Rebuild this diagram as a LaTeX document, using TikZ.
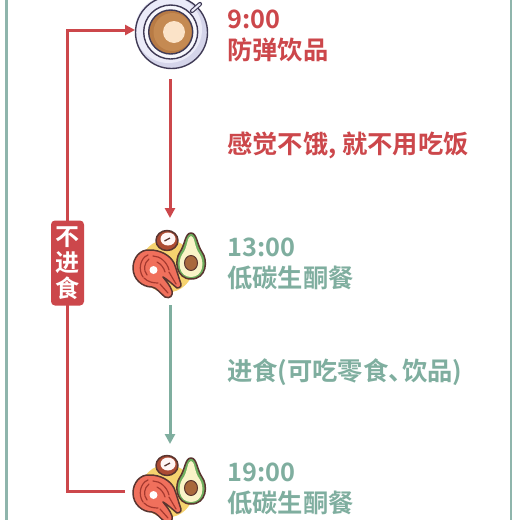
\documentclass[tikz,border=0pt]{standalone}
\usepackage{fontspec}
\setmainfont{Noto Sans CJK SC}[BoldFont={* Bold}]
\usetikzlibrary{arrows.meta}
\definecolor{brick}{HTML}{CC474B}
\definecolor{sage}{HTML}{7FAE9F}
\definecolor{frameline}{HTML}{8FB5AC}
\definecolor{ink}{HTML}{5A3530}
\definecolor{plum}{HTML}{3F3A55}
\definecolor{saucer}{HTML}{EBEBF8}
\definecolor{saucerd}{HTML}{D5D5EA}
\definecolor{coffee}{HTML}{C58A52}
\definecolor{coffeed}{HTML}{B87B45}
\definecolor{foam}{HTML}{FBE3C8}
\definecolor{sun}{HTML}{F6D36F}
\definecolor{salmon}{HTML}{F0705C}
\definecolor{salmond}{HTML}{A5392F}
\definecolor{avoc}{HTML}{FAF3C8}
\definecolor{avog}{HTML}{6FAE5E}
\definecolor{pit}{HTML}{A9683C}
\tikzset{
  x=1pt,y=-1pt,
  flowred/.style={draw=brick,line width=3pt,-{Triangle[length=10pt,width=10pt]}},
  flowgreen/.style={draw=sage,line width=3pt,-{Triangle[length=10pt,width=10pt]}},
  redlabel/.style={anchor=west,inner sep=0pt,text=brick,font=\bfseries\fontsize{25.3}{30}\selectfont},
  greenlabel/.style={anchor=west,inner sep=0pt,text=sage,font=\bfseries\fontsize{25.3}{30}\selectfont},
  badge/.style={fill=brick,rounded corners=4pt,minimum width=33pt,minimum height=85pt,inner sep=0pt,text=white,align=center,font=\bfseries\fontsize{24}{26}\selectfont},
  iconline/.style={draw=ink,line width=1.5pt,line join=round},
  icon/.style={minimum size=1pt,inner sep=0pt}
}
\newcommand{\foodicon}[1]{%
\begin{scope}[shift={(0,#1)}]
  \fill[sun] (167,266) circle[radius=26.5];
  % nut
  \draw[iconline,fill=salmond!75!brown] (167,240.5) ellipse[x radius=11,y radius=10];
  \draw[draw=none,fill=white!85!pink] (168,239) ellipse[x radius=7.5,y radius=6.5];
  \draw[draw=ink,line width=1.3pt] (164.5,241) -- (170,238);
  % avocado
  \draw[iconline,fill=avog] (191,233) .. controls (197,233) and (197,245) .. (202,252)
    .. controls (208,260) and (207,279) .. (191,279)
    .. controls (176,279) and (174,260) .. (180,252)
    .. controls (185,245) and (185,233) .. (191,233) -- cycle;
  \fill[avoc] (191,236) .. controls (195,236) and (194,247) .. (199.5,254)
    .. controls (205,262) and (203,277) .. (191,277)
    .. controls (179,277) and (177,262) .. (182.5,254)
    .. controls (188,247) and (187,236) .. (191,236) -- cycle;
  \draw[draw=ink,line width=1pt,fill=pit] (191,263) ellipse[x radius=6.5,y radius=7.5];
  % salmon
  \draw[iconline,fill=salmon] (150,250) .. controls (140,249) and (133,258) .. (133,268)
    .. controls (133,279) and (142,287) .. (152,287)
    .. controls (157,288) and (160,293) .. (165,297)
    .. controls (170,299) and (173,296) .. (172,291)
    .. controls (170,285) and (166,281) .. (163,277)
    .. controls (167,279) and (172,284) .. (177,288)
    .. controls (181,288) and (182,285) .. (180,281)
    .. controls (178,275) and (176,268) .. (174,263)
    .. controls (170,255) and (160,250) .. (150,250) -- cycle;
  \draw[draw=salmond,line width=1.2pt,line cap=round]
    (148,255) .. controls (140,258) and (138,270) .. (143,277)
    (144,278) .. controls (148,282) and (153,283) .. (158,283)
    (153,256) .. controls (160,256) and (167,262) .. (169,270)
    (157,262) .. controls (161,264) and (164,268) .. (165,272)
    (169,272) -- (176,284)
    (149,259) .. controls (144,263) and (143,270) .. (147,275)
    (160,284) -- (168,293);
  \fill[white] (153.5,270) circle[radius=4];
\end{scope}}
\begin{document}
\begin{tikzpicture}
\useasboundingbox (0,0) rectangle (520,520);
\clip (0,0) rectangle (520,520);
\fill[white] (0,0) rectangle (520,520);
\draw[frameline,line width=2.4pt] (6.5,0) -- (6.5,520);
\draw[frameline,line width=2.4pt] (511,0) -- (511,520);
% coffee icon
\begin{scope}
  \fill[saucerd] (171.5,32.5) circle[radius=35.5];
  \fill[saucer] (168.5,29.5) circle[radius=33.5];
  \draw[draw=plum,line width=1.4pt] (171.5,32.5) circle[radius=36];
  \draw[draw=plum,line width=4.2pt,line cap=round] (192,11) -- (200,4);
  \draw[draw=saucer,line width=2pt,line cap=round] (192,11) -- (200,4);
  \draw[draw=plum,line width=1.4pt,fill=saucer!40!white] (170.7,32) circle[radius=27];
  \draw[draw=plum,line width=1.4pt,fill=coffeed] (170.7,32) circle[radius=22];
  \fill[coffee] (172.5,32) circle[radius=19];
  \fill[foam] (174,32) circle[radius=11];
\end{scope}
\coordinate (cupL) at (135,30);
\node[icon] (cup) at (171,32) {};
\node[icon] (food1) at (170,264) {};
\node[icon] (food2) at (170,489) {};
\foodicon{0}
\foodicon{225}
% connectors
\coordinate (a1) at (170,79);
\coordinate (a2) at (170,218);
\coordinate (b1) at (170,305);
\coordinate (b2) at (170,444);
\coordinate (lp0) at (125,491);
\coordinate (lp1) at (67,491);
\coordinate (lp2) at (67,30);
\draw[flowred] (a1) -- (a2);
\draw[flowgreen] (b1) -- (b2);
\draw[flowred] (lp0) -- (lp1) -- (lp2) -- (cupL);
\node[badge] (nofood) at (67.5,263) {不\\进\\食};
% labels
\node[redlabel] (t1) at (227,19) {9:00};
\node[redlabel] (d1) at (227,50) {防弹饮品};
\node[redlabel] (m1) at (227,145) {感觉不饿, 就不用吃饭};
\node[greenlabel] (t2) at (227,247) {13:00};
\node[greenlabel] (d2) at (227,278) {低碳生酮餐};
\node[greenlabel] (m2) at (227,372) {进食(可吃零食、\kern-11.5pt 饮品)};
\node[greenlabel] (t3) at (227,472) {19:00};
\node[greenlabel] (d3) at (227,503) {低碳生酮餐};
\end{tikzpicture}
\end{document}
